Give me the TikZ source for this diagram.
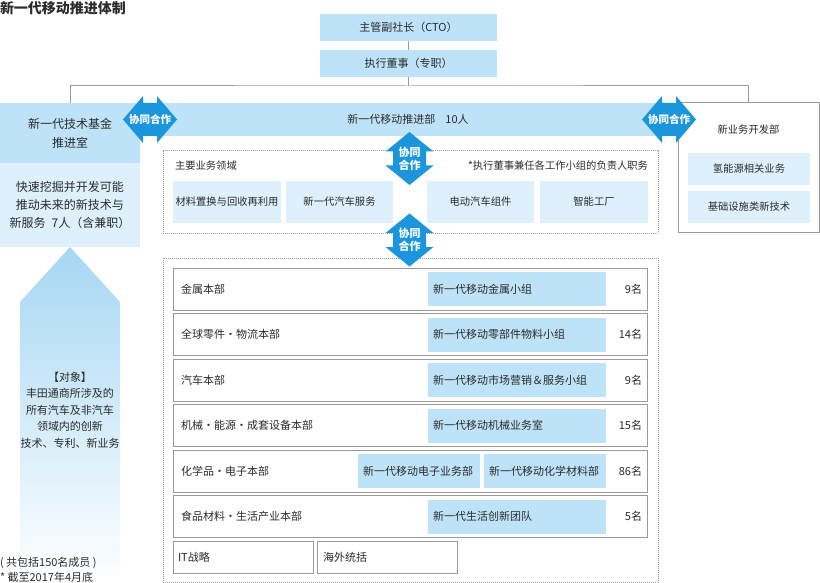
\documentclass[tikz,border=0pt]{standalone}
\usepackage{fontspec}
\setmainfont{Noto Sans CJK SC}
\definecolor{bandblue}{HTML}{BEE3F8}
\definecolor{paleblue}{HTML}{DDF0FB}
\definecolor{arrblue}{HTML}{1B95DB}
\definecolor{lgray}{HTML}{9A9A9A}
\definecolor{txt}{HTML}{2B2B2B}
\definecolor{upblue}{HTML}{A6D7F3}
\tikzset{
  every node/.style={inner sep=0pt, outer sep=0pt, text=txt},
  sz/.style 2 args={minimum width=#1pt, minimum height=#2pt},
  bandbox/.style={fill=bandblue},
  palebox/.style={fill=paleblue},
  grayframe/.style={draw=lgray, line width=1pt, fill=white},
  dotframe/.style={draw=lgray, line width=0.8pt, dash pattern=on 0.8pt off 1.2pt},
  conn/.style={draw=lgray, line width=1pt},
  coarrow/.style={fill=arrblue},
  cotext/.style={text=white, font=\fontsize{10.5pt}{13pt}\selectfont\bfseries, align=center},
  f10/.style={font=\fontsize{10.3pt}{12pt}\selectfont},
  f11/.style={font=\fontsize{11pt}{13pt}\selectfont},
  f12/.style={font=\fontsize{12pt}{18pt}\selectfont},
  lbl/.style={anchor=west, f11},
  cnt/.style={anchor=east, f11},
  grp/.style={palebox, fill=bandblue, minimum height=34pt, inner xsep=5pt, text width=168pt, align=left, f11}
}
\begin{document}
\begin{tikzpicture}[x=1pt, y=-1pt]
\useasboundingbox (0,0) rectangle (820,583);

% title
\node[anchor=west, font=\fontsize{14pt}{16pt}\selectfont\bfseries] (title) at (0,8) {新一代移动推进体制};

% top management
\node[bandbox, sz={177}{27}, f11] (cto) at (408.5,27.5) {主管副社长（CTO）};
\node[bandbox, sz={177}{27}, f11] (exec) at (408.5,63.5) {执行董事（专职）};

% left fund boxes
\node[bandbox, sz={140}{60}, f12, align=center, font=\fontsize{12pt}{19pt}\selectfont] (fund) at (70,133) {新一代技术基金\\推进室};
\node[palebox, sz={140}{84}, f12, align=center] (fundtxt) at (70,205) {快速挖掘并开发可能\\推动未来的新技术与\\新服务\hspace{6pt}7人（含兼职）};

% main band
\node[bandbox, sz={536}{33}, f11] (band) at (408,119.5) {新一代移动推进部\hspace{10pt}10人};

% right box
\node[grayframe, sz={141}{130}] (newbiz) at (748.5,168) {};
\node[f10] (newbizlbl) at (748.5,130) {新业务开发部};
\node[palebox, sz={122}{32}, f10] (h2) at (749,169) {氢能源相关业务};
\node[palebox, sz={122}{32}, f10] (infra) at (749,207) {基础设施类新技术};

% connectors
\coordinate (bus) at (408.5,86);
\draw[conn] (cto.south) -- (exec.north);
\draw[conn] (exec.south) -- (bus);
\draw[conn] (fund.north) |- (bus) -| (newbiz.north);

% main business areas
\node[dotframe, sz={495}{83}] (scope) at (410.5,191.5) {};
\node[anchor=west, f10] (scopelbl) at (175,166) {主要业务领域};
\node[anchor=east, f10] (scopenote) at (648,166) {*执行董事兼任各工作小组的负责人职务};
\node[palebox, sz={108}{42}, f10] (a1) at (227,202) {材料置换与回收再利用};
\node[palebox, sz={107}{42}, f10] (a2) at (339.5,202) {新一代汽车服务};
\node[palebox, sz={107}{42}, f10] (a3) at (480.5,202) {电动汽车组件};
\node[palebox, sz={108}{42}, f10] (a4) at (594,202) {智能工厂};

% up arrow
\shade[top color=upblue, bottom color=white] (70,247) -- (120,302) -- (120,583) -- (20,583) -- (20,302) -- cycle;
\node[align=center, font=\fontsize{11pt}{16.5pt}\selectfont] (target) at (70,410) {【对象】\\丰田通商所涉及的\\所有汽车及非汽车\\领域内的创新\\技术、专利、新业务};

% notes
\node[anchor=west, f11] (note1) at (0,563) {( 共包括150名成员 )};
\node[anchor=west, f11] (note2) at (0,577) {* 截至2017年4月底};

% divisions
\node[dotframe, sz={495}{324}] (divs) at (410.5,420) {};
\node[grayframe, sz={474}{42}] (r1) at (410,289) {};
\node[grayframe, sz={474}{42}] (r2) at (410,334.5) {};
\node[grayframe, sz={474}{42}] (r3) at (410,380) {};
\node[grayframe, sz={474}{42}] (r4) at (410,425.5) {};
\node[grayframe, sz={474}{42}] (r5) at (410,471) {};
\node[grayframe, sz={474}{42}] (r6) at (410,516.5) {};

\node[lbl] (l1) at (181,289) {金属本部};
\node[lbl] (l2) at (181,334.5) {全球零件・物流本部};
\node[lbl] (l3) at (181,380) {汽车本部};
\node[lbl] (l4) at (181,425.5) {机械・能源・成套设备本部};
\node[lbl] (l5) at (181,471) {化学品・电子本部};
\node[lbl] (l6) at (181,516.5) {食品材料・生活产业本部};

\node[grp] (g1) at (517,289) {新一代移动金属小组};
\node[grp] (g2) at (517,334.5) {新一代移动零部件物料小组};
\node[grp] (g3) at (517,380) {新一代移动市场营销＆服务小组};
\node[grp] (g4) at (517,425.5) {新一代移动机械业务室};
\node[grp, text width=112pt] (g5a) at (419,471) {新一代移动电子业务部};
\node[grp, text width=112pt] (g5b) at (545,471) {新一代移动化学材料部};
\node[grp] (g6) at (517,516.5) {新一代生活创新团队};

\node[cnt] (c1) at (642,289) {9名};
\node[cnt] (c2) at (642,334.5) {14名};
\node[cnt] (c3) at (642,380) {9名};
\node[cnt] (c4) at (642,425.5) {15名};
\node[cnt] (c5) at (642,471) {86名};
\node[cnt] (c6) at (642,516.5) {5名};

\node[grayframe, sz={140}{32}] (it) at (243,557) {};
\node[lbl] (itlbl) at (178,557) {IT战略};
\node[grayframe, sz={140}{32}] (ovs) at (387,557) {};
\node[lbl] (ovslbl) at (323,557) {海外统括};

% horizontal collaboration arrows
\foreach \cx/\nm in {150/hco1, 669/hco2} {
  \fill[coarrow] (\cx-27,119.5) -- (\cx-7,96) -- (\cx-7,103) -- (\cx+7,103) -- (\cx+7,96)
    -- (\cx+27,119.5) -- (\cx+7,143) -- (\cx+7,136) -- (\cx-7,136) -- (\cx-7,143) -- cycle;
  \node[cotext] (\nm) at (\cx,119.5) {协同合作};
}
% vertical collaboration arrows
\foreach \cy/\nm in {158.5/vco1, 240/vco2} {
  \fill[coarrow] (409.5,\cy-26.5) -- (433.5,\cy-7) -- (426,\cy-7) -- (426,\cy+7) -- (433.5,\cy+7)
    -- (409.5,\cy+26.5) -- (385.5,\cy+7) -- (393,\cy+7) -- (393,\cy-7) -- (385.5,\cy-7) -- cycle;
  \node[cotext, font=\fontsize{11pt}{13pt}\selectfont\bfseries] (\nm) at (409.5,\cy) {协同\\合作};
}
\end{tikzpicture}
\end{document}
